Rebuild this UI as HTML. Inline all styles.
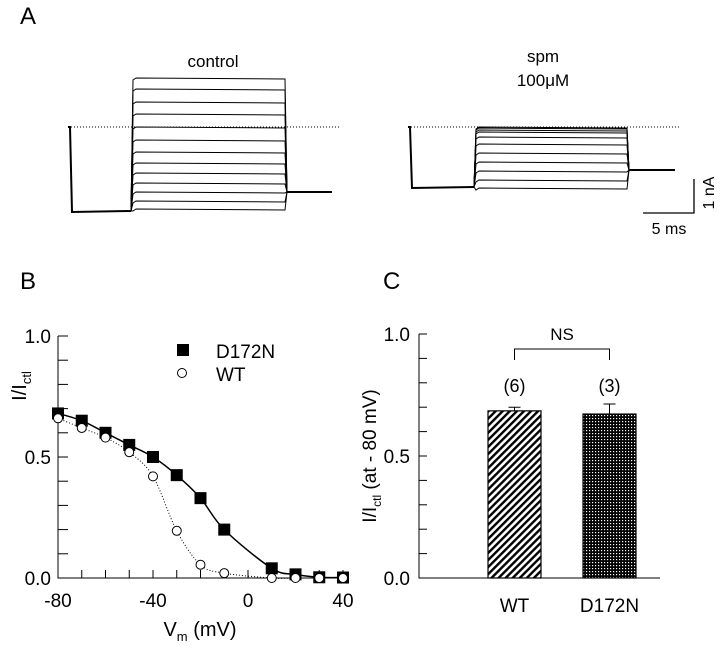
<!DOCTYPE html>
<html><head><meta charset="utf-8"><style>
body{margin:0;background:#fff}
svg{display:block;font-family:"Liberation Sans",Arial,sans-serif}
</style></head><body>
<svg width="720" height="654" viewBox="0 0 720 654">
<defs>
<pattern id="hatch" width="5" height="5" patternUnits="userSpaceOnUse" patternTransform="rotate(-45)">
<rect width="5" height="5" fill="#fff"/><rect width="5" height="2.4" fill="#000"/></pattern>
<pattern id="dots" width="3" height="3" patternUnits="userSpaceOnUse">
<rect width="3" height="3" fill="#000"/><rect x="1" y="1" width="1.2" height="1.2" fill="#fff"/></pattern>
</defs>
<text x="20" y="24" font-size="24">A</text>
<text x="20" y="289" font-size="24">B</text>
<text x="383" y="289" font-size="24">C</text>
<g id="traces"></g>
<text x="213" y="67" font-size="17" text-anchor="middle">control</text>
<text x="543" y="62" font-size="17" text-anchor="middle">spm</text>
<text x="543" y="86" font-size="17" text-anchor="middle">100μM</text>
<g stroke="#000" stroke-width="1.3" fill="none">
<polyline points="643,213 694,213 694,179"/></g>
<text x="669" y="234" font-size="16" text-anchor="middle">5 ms</text>
<text transform="translate(714,193) rotate(-90)" font-size="16" text-anchor="middle">1 nA</text>
<g id="chartB"></g>
<g id="chartC"></g>
</svg>
<script>
const NS="http://www.w3.org/2000/svg";
function mk(p,t,a){const e=document.createElementNS(NS,t);for(const k in a)e.setAttribute(k,a[k]);p.appendChild(e);return e;}
// ---- Panel A traces ----
const ctrlLevels=[78,89,102,114,127,140,152,163,173,183,192,201,209];
const spmLevels=[127,128,130,132,137,144,153,162,171,180,188];
const tr=document.getElementById('traces');
function drawTraces(x0,x1,x2,x3,drop,tail,levels){
  let d=mk(tr,'line',{x1:x0,y1:127,x2:x0+272,y2:127,stroke:'#000','stroke-width':1,'stroke-dasharray':'1,2'});
  
  let p=mk(tr,'polyline',{points:`${x0},127 ${x0+2},127 ${x0+4},${drop} ${x1},${drop-1}`,fill:'none',stroke:'#000','stroke-width':2});
  
  levels.forEach(l=>{const q=mk(tr,'polyline',{points:`${x1},${drop-1} ${x1+2},${l+2} ${x1+5},${l} ${x2},${l+1} ${x2+2},${tail}`,fill:'none',stroke:'#000','stroke-width':1});
    });
  let t=mk(tr,'line',{x1:x2+2,y1:tail,x2:x3,y2:tail,stroke:'#000','stroke-width':2});
  
}
drawTraces(68,131,285,332,212,192,ctrlLevels);
drawTraces(408,474,627,675,188,170,spmLevels);
// ---- Panel B ----
const vm=[-80,-70,-60,-50,-40,-30,-20,-10,10,20,30,40];
const d172n=[0.68,0.65,0.60,0.55,0.50,0.425,0.33,0.20,0.04,0.015,0.003,0.002];
const wt=[0.66,0.62,0.58,0.52,0.42,0.195,0.055,0.02,0,0,0,0];
const xTicks=[-80,-40,0,40];
const yTicksB=["0.0","0.5","1.0"];
const gB=document.getElementById('chartB');
const bx=v=>58+(v+80)*285/120, by=v=>578-v*242;
let ax=mk(gB,'polyline',{points:`${bx(-80)},${by(1)} ${bx(-80)},${by(0)} ${bx(42)},${by(0)}`,fill:'none',stroke:'#000','stroke-width':1});

for(let v=-80;v<=40;v+=10){const t=mk(gB,'line',{x1:bx(v),y1:by(0),x2:bx(v),y2:by(0)-8,stroke:'#000'});}
for(let i=0;i<=10;i++){const t=mk(gB,'line',{x1:bx(-80),y1:by(i/10),x2:bx(-80)+10,y2:by(i/10),stroke:'#000'});}
xTicks.forEach(v=>{const t=mk(gB,'text',{x:bx(v),y:by(0)+29,'font-size':19,'text-anchor':'middle'});t.textContent=v;});
yTicksB.forEach(s=>{const t=mk(gB,'text',{x:51,y:by(+s)+7,'font-size':19,'text-anchor':'end'});t.textContent=s;});
let xl=mk(gB,'text',{x:200,y:636,'font-size':20,'text-anchor':'middle'});xl.innerHTML='V<tspan font-size="13" dy="5">m</tspan><tspan dy="-5"> (mV)</tspan>';

let yl=mk(gB,'text',{transform:'translate(26,386) rotate(-90)','font-size':20,'text-anchor':'middle'});yl.innerHTML='I/I<tspan font-size="13" dy="5">ctl</tspan>';

function smooth(xs,ys){const P=xs.map((x,i)=>[bx(x),by(ys[i])]);let d=`M${P[0][0]},${P[0][1]}`;
  for(let i=0;i<P.length-1;i++){const p0=P[Math.max(0,i-1)],p1=P[i],p2=P[i+1],p3=P[Math.min(P.length-1,i+2)];
  d+=` C${p1[0]+(p2[0]-p0[0])/6},${p1[1]+(p2[1]-p0[1])/6} ${p2[0]-(p3[0]-p1[0])/6},${p2[1]-(p3[1]-p1[1])/6} ${p2[0]},${p2[1]}`;}return d;}
let c1=mk(gB,'path',{d:smooth(vm,d172n),fill:'none',stroke:'#000','stroke-width':1.5});
let c2=mk(gB,'path',{d:smooth(vm,wt),fill:'none',stroke:'#000','stroke-width':1,'stroke-dasharray':'1,2'});
vm.forEach((v,i)=>{const r=mk(gB,'rect',{x:bx(v)-6,y:by(d172n[i])-6,width:12,height:12,fill:'#000'});});
vm.forEach((v,i)=>{const c=mk(gB,'circle',{cx:bx(v),cy:by(wt[i]),r:4.5,fill:'#fff',stroke:'#000'});});
let lg1=mk(gB,'rect',{x:177,y:344,width:12,height:12,fill:'#000'});
let lt1=mk(gB,'text',{x:216,y:358,'font-size':19});lt1.textContent='D172N';
let lg2=mk(gB,'circle',{cx:182,cy:373,r:4.5,fill:'#fff',stroke:'#000'});
let lt2=mk(gB,'text',{x:216,y:381,'font-size':19});lt2.textContent='WT';
// ---- Panel C ----
const groups=["WT","D172N"];
const means=[0.685,0.672];
const errs=[0.015,0.041];
const ns=["(6)","(3)"];
const yTicksC=["0.0","0.5","1.0"];
const gC=document.getElementById('chartC');
const cy=v=>578-v*244, cx=i=>514.5+i*95;
let axc=mk(gC,'polyline',{points:`419,${cy(1)} 419,${cy(0)} 660,${cy(0)}`,fill:'none',stroke:'#000'});
for(let i=0;i<=10;i++){const t=mk(gC,'line',{x1:419,y1:cy(i/10),x2:427,y2:cy(i/10),stroke:'#000'});}
yTicksC.forEach(s=>{const t=mk(gC,'text',{x:410,y:cy(+s)+7,'font-size':19,'text-anchor':'end'});t.textContent=s;});
let ylc=mk(gC,'text',{transform:'translate(376,456) rotate(-90)','font-size':19,'text-anchor':'middle'});ylc.innerHTML='I/I<tspan font-size="12" dy="5">ctl</tspan><tspan dy="-5"> (at - 80 mV)</tspan>';

groups.forEach((g,i)=>{
  const e=mk(gC,'polyline',{points:`${cx(i)},${cy(means[i])} ${cx(i)},${cy(means[i]+errs[i])} ${cx(i)-6},${cy(means[i]+errs[i])} ${cx(i)+6},${cy(means[i]+errs[i])}`,fill:'none',stroke:'#000'});
  
  const b=mk(gC,'rect',{x:cx(i)-26.5,y:cy(means[i]),width:53,height:cy(0)-cy(means[i]),fill:i?'url(#dots)':'url(#hatch)',stroke:'#000','stroke-width':1.2});
  
  const t=mk(gC,'text',{x:cx(i),y:612,'font-size':19,'text-anchor':'middle'});t.textContent=g;
  const n=mk(gC,'text',{x:cx(i),y:392,'font-size':18,'text-anchor':'middle'});n.textContent=ns[i];
});
let br=mk(gC,'polyline',{points:`${cx(0)},360 ${cx(0)},349 ${cx(1)},349 ${cx(1)},360`,fill:'none',stroke:'#000'});
let nst=mk(gC,'text',{x:(cx(0)+cx(1))/2,y:340,'font-size':17,'text-anchor':'middle'});nst.textContent='NS';
</script>
</body></html>
